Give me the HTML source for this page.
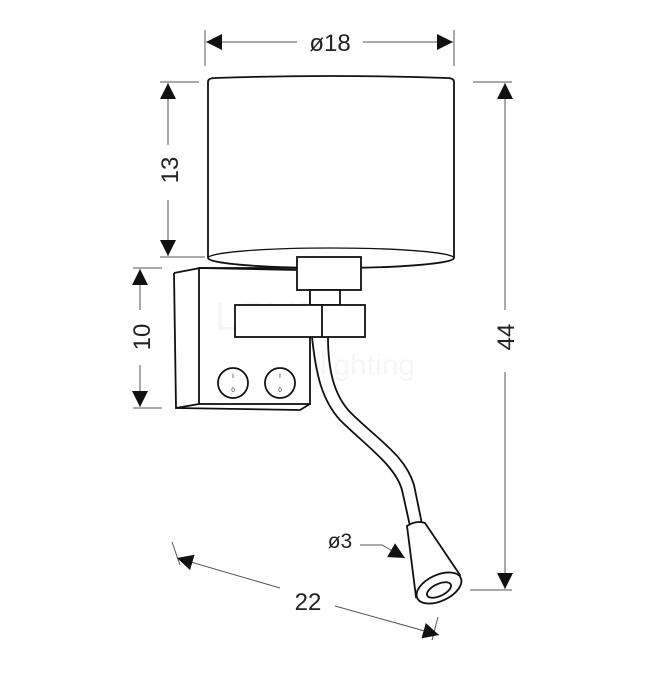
<!DOCTYPE html>
<html><head><style>html,body{margin:0;padding:0;background:#fff}svg{display:block}</style></head>
<body>
<svg width="650" height="677" viewBox="0 0 650 677" xmlns="http://www.w3.org/2000/svg" font-family="Liberation Sans, sans-serif">
<defs>
<marker id="a" viewBox="0 0 10 10" refX="10" refY="5" markerWidth="16" markerHeight="16" markerUnits="userSpaceOnUse" orient="auto"><path d="M0,0 L10,5 L0,10 z" fill="#111"/></marker>
</defs>
<g stroke="#555" stroke-width="1" fill="none">
<line x1="205" y1="30" x2="205" y2="66"/><line x1="454" y1="30" x2="454" y2="66"/>
<line x1="297" y1="42" x2="206" y2="42" marker-end="url(#a)"/>
<line x1="363" y1="42" x2="453" y2="42" marker-end="url(#a)"/>
<line x1="160" y1="82" x2="199" y2="82"/><line x1="160" y1="257" x2="205" y2="257"/>
<line x1="168" y1="145" x2="168" y2="83" marker-end="url(#a)"/>
<line x1="168" y1="200" x2="168" y2="256" marker-end="url(#a)"/>
<line x1="473" y1="82" x2="512" y2="82"/><line x1="470" y1="590" x2="512" y2="590"/>
<line x1="505" y1="310" x2="505" y2="83" marker-end="url(#a)"/>
<line x1="505" y1="372" x2="505" y2="589" marker-end="url(#a)"/>
<line x1="133" y1="268" x2="162" y2="268"/><line x1="133" y1="408" x2="162" y2="408"/>
<line x1="140" y1="310" x2="140" y2="269" marker-end="url(#a)"/>
<line x1="140" y1="365" x2="140" y2="407" marker-end="url(#a)"/>
<line x1="172" y1="542" x2="180" y2="565"/><line x1="438" y1="617" x2="432" y2="640"/>
<line x1="280" y1="588" x2="177" y2="558" marker-end="url(#a)"/>
<line x1="335" y1="606" x2="439" y2="635" marker-end="url(#a)"/>
<polyline points="360,545 382,545 405,558" marker-end="url(#a)"/>
</g>
<g fill="#222" font-size="24">
<text x="330" y="51" text-anchor="middle">ø18</text>
<text x="308" y="610" text-anchor="middle">22</text>
<text x="340" y="548" text-anchor="middle" font-size="21">ø3</text>
<text transform="translate(178 170) rotate(-90)" text-anchor="middle">13</text>
<text transform="translate(150 337) rotate(-90)" text-anchor="middle">10</text>
<text transform="translate(514 337) rotate(-90)" text-anchor="middle">44</text>
</g>
<g fill="#eee" font-size="40" opacity="0.5">
<text x="215" y="330">LOVE</text>
<text x="320" y="375" font-size="30">lighting</text>
</g>
<g stroke="#111" stroke-width="1.8" fill="none">
<path d="M208,82 Q208,78 215,78 Q331,74 447,78 Q454,78 454,82 L454,258 A123,10 0 0 1 208,258 Z" fill="#fff"/>
<path d="M208,258 A123,10 0 0 1 454,258" stroke-width="1.3"/>
<path d="M174,273 L200,268 L296,270" />
<path d="M174,273 L176,408 L199,404" />
<rect x="199" y="268" width="111" height="136"/>
<path d="M176,408 L300,410 L310,404"/>
<path d="M312,337 C316,375 322,400 340,420 C365,445 395,465 402,490 L410,526"/>
<path d="M328,337 C328,370 334,395 350,412 C378,440 405,455 414,485 L422,524"/>
<rect x="297" y="257" width="64" height="33" fill="#fff"/>
<rect x="310" y="290" width="30" height="15" fill="#fff"/>
<rect x="235" y="305" width="130" height="32" fill="#fff"/>
<line x1="322" y1="305" x2="322" y2="337"/>
<circle cx="233" cy="383" r="15" fill="#fff"/>
<circle cx="280" cy="383" r="15" fill="#fff"/>
<path d="M407,526 Q416,520 425,523 L460,575 L416,597 Z" fill="#fff"/>
<ellipse cx="439" cy="588" rx="24" ry="13" transform="rotate(-25 439 588)" fill="#fff"/>
<ellipse cx="439" cy="590" rx="13" ry="6" transform="rotate(-25 439 590)"/>
</g>
<g fill="#111" font-size="6" text-anchor="middle">
<text x="233" y="378">I</text><text x="233" y="392">0</text>
<text x="280" y="378">I</text><text x="280" y="392">0</text>
</g>
</svg>
</body></html>
